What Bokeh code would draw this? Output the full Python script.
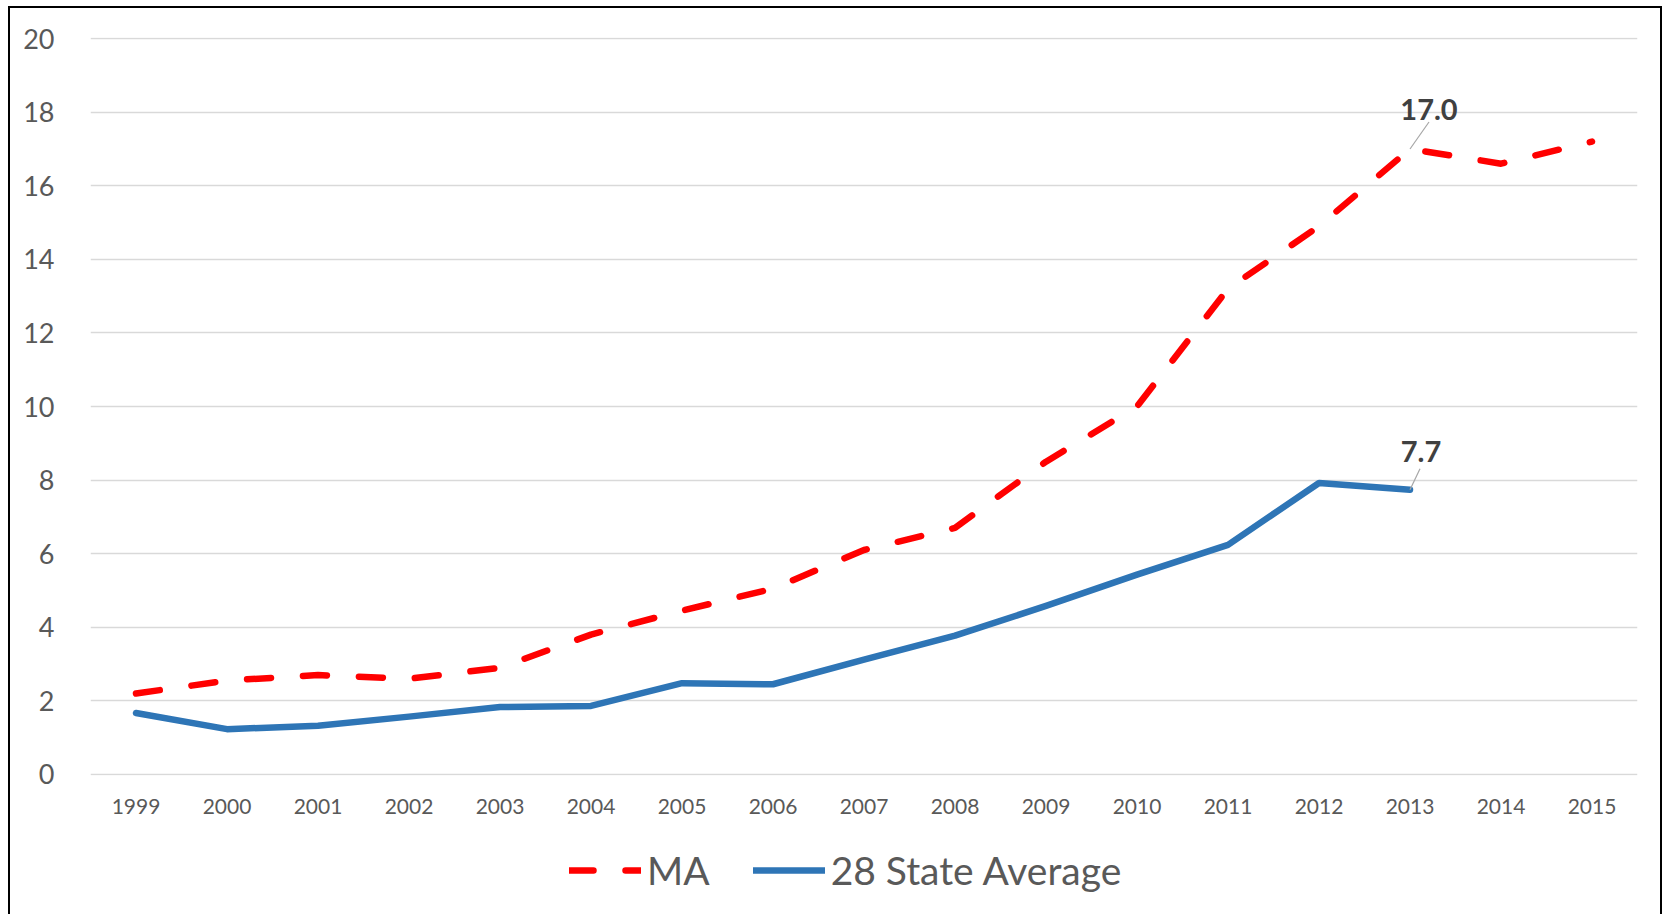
from bokeh.plotting import figure
from bokeh.layouts import column
from bokeh.models import Range1d, FixedTicker, Legend, LegendItem, ColumnDataSource
from bokeh.core.properties import value
from bokeh.embed import file_html
from bokeh.resources import INLINE

years = list(range(1999, 2016))
ma_values = [2.2, 2.55, 2.7, 2.6, 2.9, 3.8, 4.45, 5.05, 6.1, 6.7, 8.5, 10.0, 13.2, 14.9, 17.0, 16.6, 17.2]
avg_years = list(range(1999, 2014))
avg_values = [1.67, 1.23, 1.32, 1.57, 1.83, 1.86, 2.48, 2.45, 3.12, 3.77, 4.58, 5.43, 6.24, 7.92, 7.74]
y_ticks = list(range(0, 21, 2))
series_names = ["MA", "28 State Average"]
label_year = 2013

FONT = "Lato"
MA_STYLE = dict(line_color="#ff0000", line_width=6.5, line_dash="24 32",
                line_cap="round", line_join="round")
AVG_STYLE = dict(line_color="#2e75b6", line_width=6.5, line_cap="round", line_join="round")

p = figure(frame_width=1547, frame_height=738, output_backend="svg", toolbar_location=None,
           x_range=Range1d(1998.5, 2015.5), y_range=Range1d(-0.03, 20.03),
           min_border_left=80, min_border_top=29, min_border_right=23, min_border_bottom=50)
p.outline_line_color = None
p.background_fill_color = "white"
p.border_fill_color = "white"

p.xgrid.grid_line_color = None
p.ygrid.grid_line_color = "#d9d9d9"
p.ygrid.grid_line_width = 1.5
p.yaxis.ticker = FixedTicker(ticks=y_ticks)
p.xaxis.ticker = FixedTicker(ticks=years)
for ax in (p.xaxis, p.yaxis):
    ax.axis_line_color = None
    ax.major_tick_line_color = None
    ax.minor_tick_line_color = None
    ax.major_label_text_font = FONT
    ax.major_label_text_color = "#595959"
p.yaxis.major_label_text_font_size = "27px"
p.yaxis.major_label_standoff = 30
p.xaxis.major_label_text_font_size = "21px"
p.xaxis.major_label_standoff = 17

ma_src = ColumnDataSource(dict(x=years, y=ma_values))
avg_src = ColumnDataSource(dict(x=avg_years, y=avg_values))
p.line("x", "y", source=ma_src, **MA_STYLE)
p.line("x", "y", source=avg_src, **AVG_STYLE)

# data labels at 2013 with leader lines
i_ma = years.index(label_year)
i_avg = avg_years.index(label_year)
lab_x = [years[i_ma], avg_years[i_avg]]
lab_y = [ma_values[i_ma], avg_values[i_avg]]
lab_t = ["%.1f" % v for v in lab_y]
xpx = 1.0 / 91.0
ypx = 20.0 / 736.0
lead = ColumnDataSource(dict(x0=lab_x, y0=lab_y,
                             x1=[lab_x[0] + 19 * xpx, lab_x[1] + 10 * xpx],
                             y1=[lab_y[0] + 27 * ypx, lab_y[1] + 21 * ypx]))
p.segment("x0", "y0", "x1", "y1", source=lead, line_color="#a6a6a6", line_width=1.2)
lsrc = ColumnDataSource(dict(x=lab_x, y=lab_y, t=lab_t, xo=[19, 11], yo=[-39, -38]))
p.text("x", "y", text="t", source=lsrc, x_offset="xo", y_offset="yo",
       text_font=value(FONT), text_font_style="bold", text_font_size="29px",
       text_color="#404040", text_align="center", text_baseline="alphabetic")

# legend strip below the chart (series lines lie outside this strip's range)
pl = figure(width=1650, height=89, output_backend="svg", toolbar_location=None,
            x_axis_type=None, y_axis_type=None, x_range=Range1d(0, 1), y_range=Range1d(0, 1),
            min_border=0)
pl.outline_line_color = None
pl.border_fill_color = "white"
r_ma = pl.line("x", "y", source=ma_src, **MA_STYLE)
r_avg = pl.line("x", "y", source=avg_src, **AVG_STYLE)
legend = Legend(items=[LegendItem(label=series_names[0], renderers=[r_ma]),
                       LegendItem(label=series_names[1], renderers=[r_avg])],
                orientation="horizontal", location=(479, 21),
                label_text_font=FONT, label_text_font_size="39px",
                label_text_color="#595959", glyph_width=72, glyph_height=30,
                label_standoff=6, spacing=43, padding=0, margin=0,
                border_line_color=None, background_fill_alpha=0)
pl.add_layout(legend)

layout = column(p, pl, spacing=0)
layout.styles = {"border": "2px solid black", "border-bottom": "none",
                 "margin-left": "8px", "margin-top": "6px"}

open("out.html", "w").write(file_html(layout, INLINE))
